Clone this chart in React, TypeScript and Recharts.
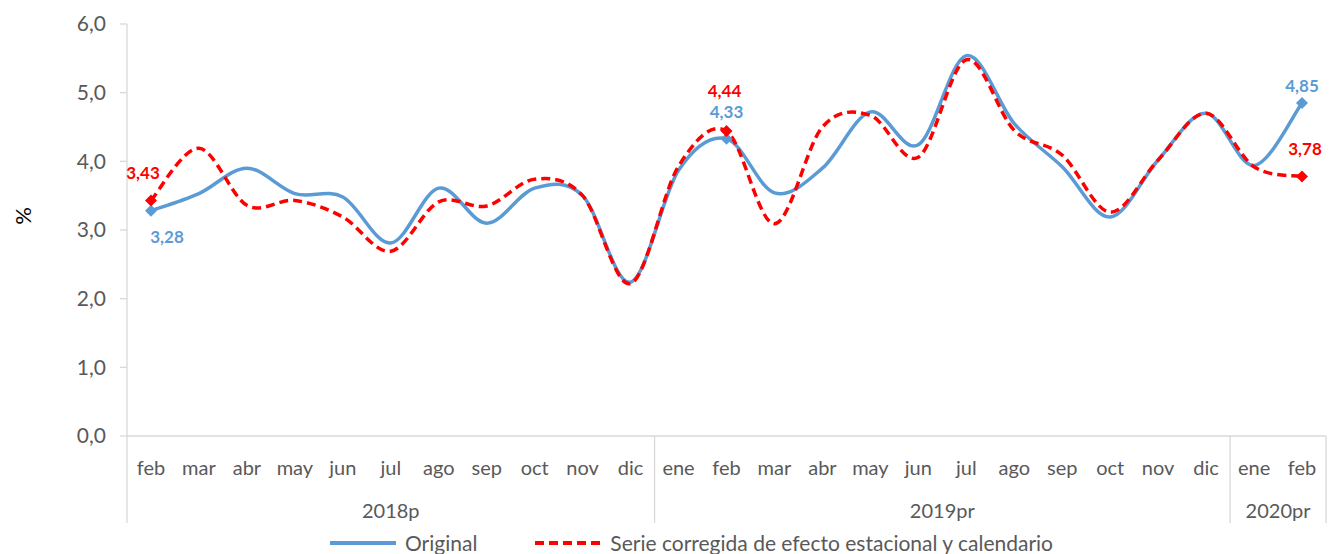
import React from "react";
import { LineChart, Line, XAxis, YAxis, Legend, LabelList } from "recharts";

// categorías (meses) y grupos de año
const months = [
    "feb", "mar", "abr", "may", "jun", "jul", "ago", "sep", "oct", "nov", "dic",
    "ene", "feb", "mar", "abr", "may", "jun", "jul", "ago", "sep", "oct", "nov", "dic",
    "ene", "feb"
];
const yearGroups = ["2018p", "2019pr", "2020pr"];
const yearSizes = [11, 12, 2];

// series
const original = [
    3.28, 3.53, 3.9, 3.53, 3.48, 2.81, 3.61, 3.1, 3.61, 3.5, 2.24,
    3.87, 4.33, 3.54, 3.9, 4.72, 4.24, 5.54, 4.55, 3.92, 3.19, 4.02, 4.7,
    3.94, 4.85
];
const corrected = [
    3.43, 4.19, 3.36, 3.43, 3.19, 2.69, 3.41, 3.35, 3.74, 3.5, 2.22,
    3.93, 4.44, 3.09, 4.5, 4.67, 4.06, 5.48, 4.45, 4.09, 3.26, 4.02, 4.7,
    3.92, 3.78
];
const yTicks = [0, 1, 2, 3, 4, 5, 6];
const labeledPoints = [0, 12, 24];

const data = months.map((m, i) => ({ i, m, original: original[i], corrected: corrected[i] }));

const groupStarts = yearSizes.map((_, g) => yearSizes.slice(0, g).reduce((a, b) => a + b, 0));

const BLUE = "#5B9BD5";
const RED = "#FF0000";
const GRID = "#D9D9D9";
const TEXT = "#595959";
const STEP = 47.96; // ancho de categoría en px

// curva suavizada estilo Excel (Catmull-Rom)
const excelCurve = (context: any) => {
    let pts: [number, number][] = [];
    return {
        areaStart() {},
        areaEnd() {},
        lineStart() { pts = []; },
        lineEnd() {
            if (!pts.length) return;
            context.moveTo(pts[0][0], pts[0][1]);
            for (let k = 0; k < pts.length - 1; k++) {
                const p0 = pts[Math.max(k - 1, 0)];
                const p1 = pts[k];
                const p2 = pts[k + 1];
                const p3 = pts[Math.min(k + 2, pts.length - 1)];
                context.bezierCurveTo(
                    p1[0] + (p2[0] - p0[0]) / 6, p1[1] + (p2[1] - p0[1]) / 6,
                    p2[0] - (p3[0] - p1[0]) / 6, p2[1] - (p3[1] - p1[1]) / 6,
                    p2[0], p2[1]
                );
            }
        },
        point(x: number, y: number) { pts.push([+x, +y]); },
    };
};

const MonthTick = (props: any) => {
    const { x, y, payload } = props;
    const i = Number(payload.value);
    const g = groupStarts.indexOf(i);
    const isLast = i === months.length - 1;
    return (
        <g>
            <text x={x} y={y + 31} textAnchor="middle" dominantBaseline="central" fill={TEXT} fontSize={20}>
                {months[i]}
            </text>
            {g >= 0 && (
                <>
                    <line x1={x - STEP / 2} x2={x - STEP / 2} y1={y} y2={y + 87} stroke={GRID} strokeWidth={1.3} />
                    <text x={x + (yearSizes[g] - 1) * STEP / 2} y={y + 74} textAnchor="middle" dominantBaseline="central" fill={TEXT} fontSize={20}>
                        {yearGroups[g]}
                    </text>
                </>
            )}
            {isLast && <line x1={x + STEP / 2} x2={x + STEP / 2} y1={y} y2={y + 87} stroke={GRID} strokeWidth={1.3} />}
        </g>
    );
};

const diamond = (color: string) => (props: any) => {
    const { cx, cy, index } = props;
    if (!labeledPoints.includes(index)) return <g key={`d-${index}`} />;
    return <path key={`d-${index}`} d={`M${cx},${cy - 6}L${cx + 6},${cy}L${cx},${cy + 6}L${cx - 6},${cy}Z`} fill={color} />;
};

const offsets: Record<string, [number, number][]> = {
    original: [[16, 26], [0, -27], [0, -17]],
    corrected: [[-8, -28], [-2, -41], [3, -28]],
};

const pointLabel = (key: string, color: string) => (props: any) => {
    const { x, y, value, index } = props;
    const k = labeledPoints.indexOf(index);
    if (k < 0) return null;
    const [dx, dy] = offsets[key][k];
    return (
        <text x={x + dx} y={y + dy} textAnchor="middle" dominantBaseline="central" fill={color} fontSize={17} fontWeight={700}>
            {Number(value).toFixed(2).replace(".", ",")}
        </text>
    );
};

const LegendContent = () => (
    <div style={{ display: "flex", alignItems: "center", fontSize: 21, color: TEXT, lineHeight: "22px", whiteSpace: "nowrap" }}>
        <svg width={66} height={10}><line x1={0} x2={66} y1={5} y2={5} stroke={BLUE} strokeWidth={4} /></svg>
        <span style={{ marginLeft: 9 }}>Original</span>
        <svg width={66} height={10} style={{ marginLeft: 58 }}>
            <line x1={0} x2={66} y1={5} y2={5} stroke={RED} strokeWidth={4} strokeDasharray="9 5" />
        </svg>
        <span style={{ marginLeft: 9 }}>Serie corregida de efecto estacional y calendario</span>
    </div>
);

export default function App() {
    return (
        <div style={{ position: "absolute", left: 0, top: 0, width: 1333, height: 554, background: "#fff", fontFamily: "Lato, sans-serif" }}>
            <LineChart width={1333} height={554} data={data} margin={{ top: 24, right: 7, left: 0, bottom: 0 }}>
                <XAxis
                    dataKey="i"
                    type="category"
                    interval={0}
                    padding={{ left: STEP / 2, right: STEP / 2 }}
                    height={96}
                    axisLine={{ stroke: GRID, strokeWidth: 1.3 }}
                    tickLine={false}
                    tickSize={0}
                    tickMargin={0}
                    tick={<MonthTick />}
                />
                <YAxis
                    width={127}
                    domain={[0, 6]}
                    ticks={yTicks}
                    interval={0}
                    tickFormatter={(v) => Number(v).toFixed(1).replace(".", ",")}
                    axisLine={{ stroke: GRID, strokeWidth: 1.3 }}
                    tickLine={{ stroke: GRID, strokeWidth: 1.3 }}
                    tickSize={7}
                    tickMargin={14}
                    tick={{ fill: TEXT, fontSize: 21 }}
                    label={(p: any) => {
                        const vb = p.viewBox || { y: 24, height: 411 };
                        const cy = vb.y + vb.height / 2 - 14;
                        return (
                            <text x={22} y={cy} transform={`rotate(-90, 22, ${cy})`} textAnchor="middle" dominantBaseline="central" fill="#000" fontSize={22}>
                                %
                            </text>
                        );
                    }}
                />
                <Legend verticalAlign="bottom" wrapperStyle={{ height: 22, bottom: 0, left: 330, width: "auto" }} content={<LegendContent />} />
                <Line
                    dataKey="original"
                    type={excelCurve as any}
                    stroke={BLUE}
                    strokeWidth={3.5}
                    dot={diamond(BLUE)}
                    activeDot={false}
                    isAnimationActive={false}
                >
                    <LabelList dataKey="original" content={pointLabel("original", BLUE)} />
                </Line>
                <Line
                    dataKey="corrected"
                    type={excelCurve as any}
                    stroke={RED}
                    strokeWidth={3.5}
                    strokeDasharray="9 5"
                    dot={diamond(RED)}
                    activeDot={false}
                    isAnimationActive={false}
                >
                    <LabelList dataKey="corrected" content={pointLabel("corrected", RED)} />
                </Line>
            </LineChart>
        </div>
    );
}
